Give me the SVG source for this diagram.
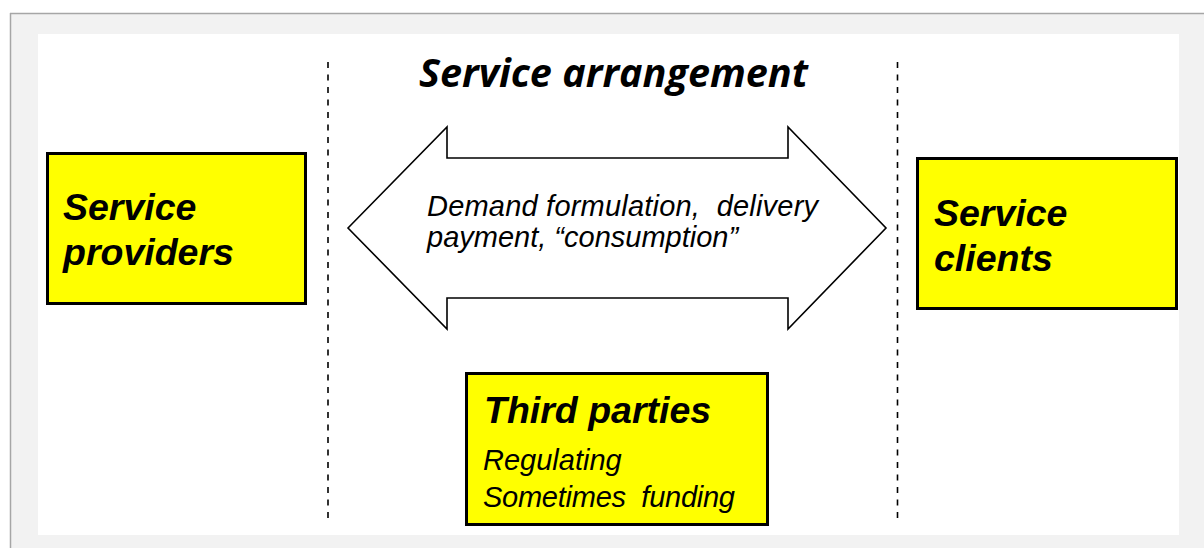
<svg xmlns="http://www.w3.org/2000/svg" width="1204" height="548" viewBox="0 0 1204 548">
<style>
.box{fill:#ffff00;stroke:#000;stroke-width:3}
.bt{font-family:"Liberation Sans",Arial,sans-serif;font-weight:bold;font-style:italic;font-size:37.5px;fill:#000}
.it{font-family:"Liberation Sans",Arial,sans-serif;font-style:italic;font-size:29px;fill:#000;white-space:pre}
.dash{stroke:#000;stroke-width:1.6;stroke-dasharray:6 6.5;fill:none}
</style>
<rect x="10" y="13" width="1194" height="535" fill="#f2f2f2"/>
<line x1="10" y1="13.5" x2="1204" y2="13.5" stroke="#a6a6a6" stroke-width="1.5"/>
<line x1="10.5" y1="13" x2="10.5" y2="548" stroke="#a6a6a6" stroke-width="1.5"/>
<rect x="38" y="34" width="1141" height="501" fill="#fff"/>
<g id="connectors">
<line class="dash" x1="328" y1="62" x2="328" y2="524"/>
<line class="dash" x1="897.5" y1="62" x2="897.5" y2="524"/>
</g>
<g id="title">
<text x="419" y="87" font-family="'Open Sans',sans-serif" font-weight="bold" font-style="italic" font-size="39" fill="#000" textLength="389" lengthAdjust="spacingAndGlyphs">Service arrangement</text>
</g>
<g id="arrangement">
<polygon points="348,228 447,127 447,158 788,158 788,127 886,228 788,329 788,298 447,298 447,329" fill="#fff" stroke="#000" stroke-width="1.6" stroke-linejoin="miter"/>
<text class="it" x="427" y="216" font-size="29.5" textLength="391" lengthAdjust="spacing">Demand formulation,  delivery</text>
<text class="it" x="427" y="247" font-size="30">payment, “consumption”</text>
</g>
<g id="providers">
<rect class="box" x="47.5" y="153.5" width="258" height="150"/>
<text class="bt" x="63" y="220">Service</text>
<text class="bt" x="63" y="265">providers</text>
</g>
<g id="clients">
<rect class="box" x="917.5" y="158.5" width="259" height="150"/>
<text class="bt" x="934" y="226">Service</text>
<text class="bt" x="934" y="271">clients</text>
</g>
<g id="third">
<rect class="box" x="466.5" y="373.5" width="301" height="151"/>
<text class="bt" x="484" y="423">Third parties</text>
<text class="it" x="483" y="470">Regulating</text>
<text class="it" x="483" y="507" textLength="252" lengthAdjust="spacing">Sometimes  funding</text>
</g>
</svg>
